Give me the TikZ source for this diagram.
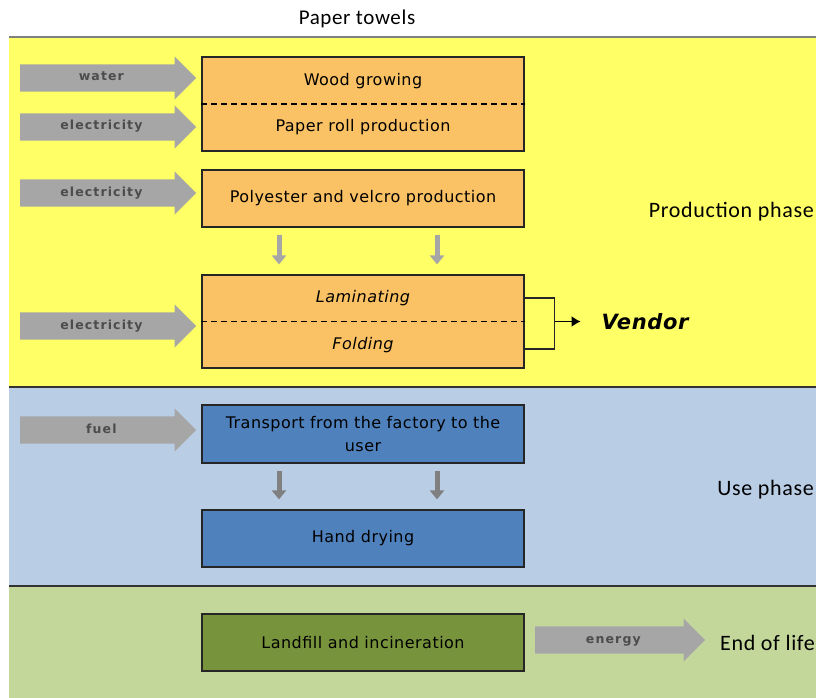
\documentclass[tikz,border=0pt]{standalone}
\usepackage{fontspec}
\setmainfont{DejaVu Sans}[LetterSpace=3]
\newfontfamily\phasefont{Carlito}[LetterSpace=3]
\newfontfamily\flowfont{DejaVu Sans}[LetterSpace=9]
\usetikzlibrary{shapes.arrows,arrows.meta}
\definecolor{prodyellow}{RGB}{255,255,102}
\definecolor{useblue}{RGB}{185,205,229}
\definecolor{eolgreen}{RGB}{196,215,155}
\definecolor{boxorange}{RGB}{250,194,100}
\definecolor{boxblue}{RGB}{79,129,189}
\definecolor{boxgreen}{RGB}{119,147,60}
\definecolor{flowgray}{RGB}{166,166,166}

\begin{document}
\begin{tikzpicture}[x=1pt,y=-1pt,
  stage/.style={draw=black!85,line width=1.2pt,minimum width=322pt,inner sep=0pt,font=\fontsize{16}{23}\selectfont},
  prod/.style={stage,fill=boxorange},
  use/.style={stage,fill=boxblue},
  eol/.style={stage,fill=boxgreen},
  steptext/.style={font=\fontsize{16}{19}\selectfont,inner sep=1pt},
  divider/.style={line width=1.2pt,dash pattern=on 6pt off 4pt},
  flow/.style={single arrow,fill=flowgray,draw=none,anchor=tail,minimum width=43pt,minimum height=#1,
    single arrow head extend=8pt,inner ysep=8.5pt,text height=8pt,text depth=2pt,
    font=\flowfont\bfseries\fontsize{12.5}{14}\selectfont,text=black!70},
  flow/.default=176pt,
  dnflow/.style={draw=#1,line width=5pt,-{Triangle[width=14pt,length=9pt]},shorten <=7pt,shorten >=10pt},
  phase/.style={font=\phasefont\fontsize{22}{26}\selectfont,anchor=east,inner sep=0pt}]
\useasboundingbox (0,0) rectangle (816,698);
% phase bands
\fill[prodyellow] (9,37) rectangle (816,387);
\fill[useblue] (9,387) rectangle (816,586);
\fill[eolgreen] (9,586) rectangle (816,698);
\draw[gray,line width=1.5pt] (9,37) -- (816,37);
\draw[black!80,line width=1.5pt] (9,387) -- (816,387);
\draw[black!80,line width=1.5pt] (9,586) -- (816,586);
\node[font=\phasefont\fontsize{21}{25}\selectfont] (title) at (357,19) {Paper towels};
% production phase
\node[prod,minimum height=94pt] (paper) at (363,104) {};
\draw[divider] (paper.west) -- (paper.east);
\node[steptext] (wood) at (363,81) {Wood growing};
\node[steptext] (roll) at (363,127) {Paper roll production};
\node[prod,minimum height=57pt] (poly) at (363,198.5) {\raisebox{-1.5pt}{Polyester and velcro production}};
\node[prod,minimum height=93pt] (lam) at (363,321.5) {};
\draw[divider] (lam.west) -- (lam.east);
\node[steptext,font=\itshape\fontsize{16}{19}\selectfont] (lamt) at (363,298) {Laminating};
\node[steptext,font=\itshape\fontsize{16}{19}\selectfont] (fold) at (363,345) {Folding};
\foreach \dx in {-84,74} {
  \draw[dnflow=flowgray] ([xshift=\dx pt]poly.south) -- ([xshift=\dx pt]lam.north);
}
\draw[line width=1.2pt,black!85] ([yshift=23.5pt]lam.east) -- ++(30,0) coordinate (brk) |- ([yshift=-27.5pt]lam.east);
\node[anchor=west,font=\bfseries\itshape\fontsize{21}{25}\selectfont] (vendor) at (598,322) {Vendor};
\draw[line width=1.5pt,black,-{Latex[length=9pt,width=11pt]}] (brk |- lam.east) -- ++(26,0);
\node[phase] (prodph) at (814,212) {Production phase};
% use phase
\node[use,minimum height=58pt,text width=318pt,align=center] (trans) at (363,434)
  {Transport from the factory to the\\ user};
\node[use,minimum height=57pt] (dry) at (363,538.5) {Hand drying};
\foreach \dx in {-84,74} {
  \draw[dnflow=gray] ([xshift=\dx pt]trans.south) -- ([xshift=\dx pt]dry.north);
}
\node[phase] (useph) at (814,490) {Use phase};
% end of life
\node[eol,minimum height=57pt] (land) at (363,642.5) {Landfill and incineration};
\node[phase] (eolph) at (815,643) {End of life};
% flows in and out
\foreach \y/\t in {78/water,127/electricity,193/electricity,326/electricity,430/fuel} {
  \node[flow] (in\y) at (20,\y) {\t};
}
\node[flow=170pt] (energy) at (535,640) {energy};
\end{tikzpicture}
\end{document}
